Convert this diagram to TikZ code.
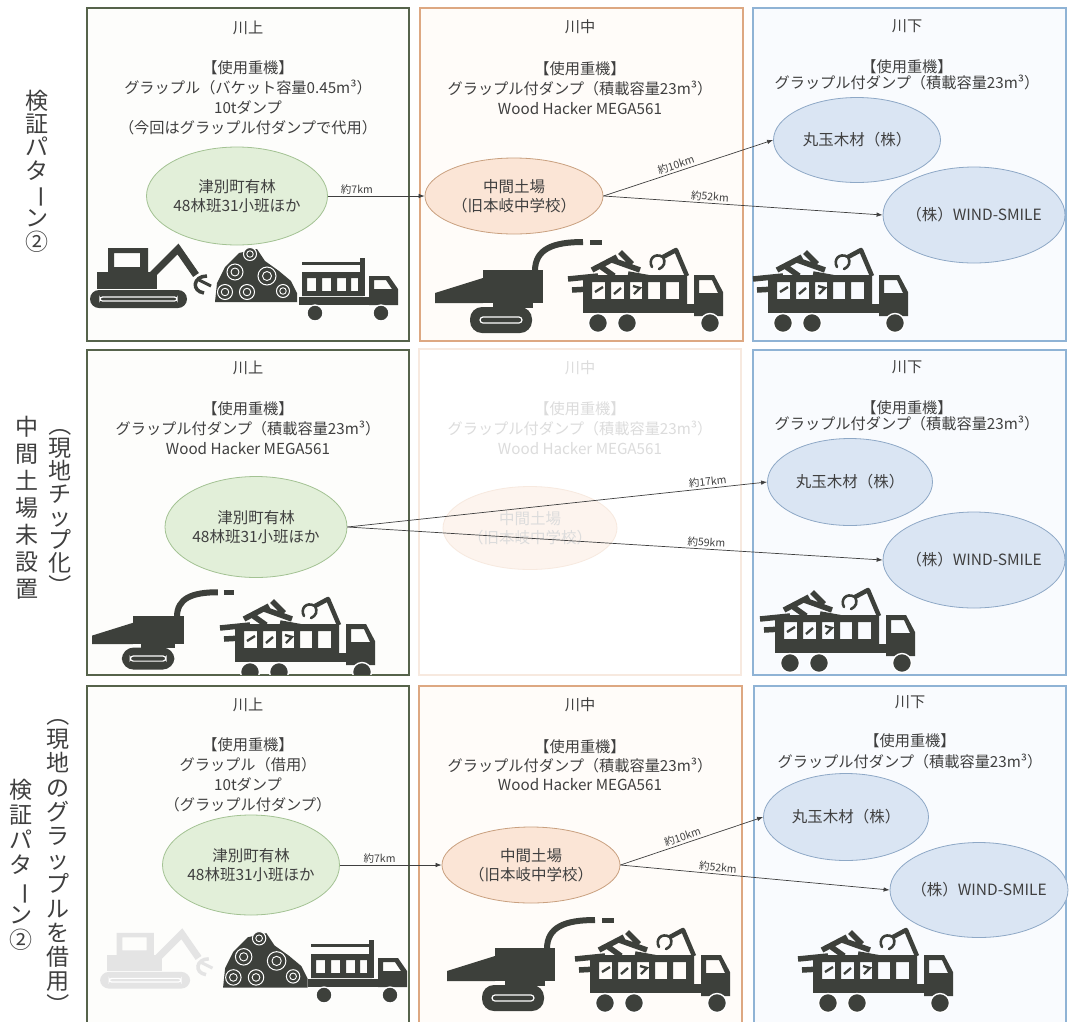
\documentclass[tikz,border=0pt]{standalone}
\usepackage{fontspec}
\setmainfont{Noto Sans CJK JP}
\usepackage{graphicx}
\usetikzlibrary{arrows.meta,shapes.geometric}

\definecolor{ink}{HTML}{3F3F3F}
\definecolor{icon}{HTML}{3D403B}
\definecolor{fadeicon}{HTML}{E4E4E4}
\definecolor{upB}{HTML}{56634B}
\definecolor{midB}{HTML}{DDA882}
\definecolor{lowB}{HTML}{8FB3D5}
\definecolor{upF}{HTML}{FDFDFB}
\definecolor{midF}{HTML}{FFFCF9}
\definecolor{lowF}{HTML}{F9FBFE}
\definecolor{grnF}{HTML}{E2EFD9}
\definecolor{grnB}{HTML}{A3C293}
\definecolor{orgF}{HTML}{FBE5D6}
\definecolor{orgB}{HTML}{C9A07F}
\definecolor{bluF}{HTML}{DAE5F3}
\definecolor{bluB}{HTML}{8EA8C6}
\definecolor{ghostB}{HTML}{F7E9DF}
\definecolor{ghostT}{HTML}{DCDCDC}
\definecolor{ghostF}{HTML}{FDF4EE}
\colorlet{pc}{icon}

\newcommand\fsz[2]{\fontsize{#1pt}{#2pt}\selectfont}
\newcommand\vturn[1]{\rotatebox[origin=c]{-90}{#1}}

\tikzset{
  pnlU/.style={draw=upB, line width=1.3pt, fill=upF},
  pnlM/.style={draw=midB, line width=1.1pt, fill=midF},
  pnlD/.style={draw=lowB, line width=1.1pt, fill=lowF},
  pnlG/.style={draw=ghostB, line width=1.1pt, fill=white},
  zone/.style={text=ink, font=\fsz{15.2}{18}, inner sep=0pt},
  gear/.style={text=ink, align=center, inner sep=0pt},
  site/.style={ellipse, line width=0.8pt, inner sep=0pt},
  sitetxt/.style={text=ink, font=\fsz{15.5}{19}, align=center, inner sep=0pt},
  conn/.style={draw=ink, line width=0.7pt, -{Latex[length=6pt,width=4.5pt]}},
  dist/.style={text=ink, font=\fsz{10.5}{12}, inner sep=1.5pt},
  vlab/.style={text=ink, align=center, inner sep=0pt},
  % grapple-loaded dump truck carrying chips
  grabtruck/.pic={
    \fill[pc, even odd rule] (13,35) rectangle (117,64)
      (22,42) rectangle (35,59) (41,42) rectangle (54,59) (60,42) rectangle (72,59)
      (78,42) rectangle (90,59) (96,42) rectangle (109,59);
    \draw[pc, line width=2.4pt] (25,52) -- (33,47) (44,54) -- (51,48) (63,46) -- (70,48) -- (64,54);
    \fill[pc] (13,64) rectangle (128,73);
    \fill[pc, even odd rule] (124,35) -- (144,35) -- (153,52) -- (153,76) -- (124,76) -- cycle
      (129,40) -- (142,40) -- (148,53) -- (129,53) -- cycle;
    \filldraw[fill=pc, draw=white, line width=1.4pt] (28,83) circle (9.5) (57,83) circle (9.5) (140,83) circle (9.5);
    \draw[pc, line width=4.5pt, line join=round] (117,36) -- (106,10) -- (93,17);
    \draw[pc, line width=2.6pt, line cap=round] (93,17) .. controls (84,12) and (78,20) .. (82,27);
    \draw[pc, line width=2.6pt, line cap=round] (93,17) .. controls (96,22) and (94,27) .. (89,29);
    \draw[pc, line width=5.5pt] (22,30) -- (47,17) (42,20) -- (70,30) (50,12) -- (62,24)
      (58,34) -- (86,39) (-2,39) -- (28,36) (2,50) -- (20,49) (30,26) -- (44,36);
  },
  % mobile wood chipper on crawler tracks
  chipper/.pic={
    \fill[pc] (0,56) -- (48,41) -- (48,66) -- (0,66) -- cycle;
    \fill[pc] (48,33) rectangle (108,66);
    \fill[pc] (58,66) rectangle (98,71);
    \fill[pc, rounded corners=12pt] (35,70) rectangle (97,96);
    \draw[white, line width=1.2pt, rounded corners=3pt] (45,80) rectangle (87,86);
    \draw[pc, line width=6pt] (100,34) .. controls (100,12) and (118,5) .. (148,5);
    \draw[pc, line width=5pt] (155,5) -- (167,5);
  },
  % grapple excavator
  excav/.pic={
    \fill[pc, rounded corners=9pt] (0,45) rectangle (97,63);
    \draw[white, line width=1.2pt, rounded corners=2.5pt] (10,52) rectangle (87,56);
    \fill[pc] (7,27) rectangle (67,44);
    \fill[pc, even odd rule] (18,3) rectangle (58,27) (24,8) rectangle (50,22);
    \draw[pc, line width=7pt, line join=miter] (60,32) -- (88,4) -- (106,30);
    \draw[pc, line width=3.5pt] (117,31) .. controls (103,31) and (101,46) .. (114,48);
    \draw[pc, line width=3pt] (109,35) -- (121,41);
  },
  % stacked logs
  logpile/.pic={
    \fill[pc] (2,57) -- (4,38) -- (12,22) -- (26,8) -- (44,4) -- (52,16) -- (66,26)
      -- (78,36) -- (84,48) -- (84,57) -- cycle;
    \foreach \x/\y/\r in {37/9/6.5, 22/27/8, 54/31/9, 12/47/7.5, 34/47/7.5, 70/46/6.5}{
      \filldraw[fill=pc, draw=white, line width=1pt] (\x,\y) circle (\r);
      \draw[white, line width=0.9pt] (\x,\y) circle ({0.5*\r});
    }
  },
  % 10t dump truck
  dumptruck/.pic={
    \fill[pc] (5,4) rectangle (67,7);
    \fill[pc] (63,0) rectangle (68,38);
    \fill[pc, even odd rule] (5,14) rectangle (66,38)
      (10,20) rectangle (19,33) (25,20) rectangle (34,33) (40,20) rectangle (49,33) (54,20) rectangle (61,33);
    \fill[pc] (2,39) rectangle (101,47);
    \fill[pc, even odd rule] (72,18) -- (92,18) -- (101,31) -- (101,47) -- (72,47) -- cycle
      (77,22) -- (89,22) -- (95,31) -- (77,31) -- cycle;
    \filldraw[fill=pc, draw=white, line width=1.3pt] (18,55) circle (8) (84,55) circle (8);
  },
}

\begin{document}
\begin{tikzpicture}[x=1pt, y=-1pt]
\useasboundingbox (0,0) rectangle (1069,1021);
\fill[white] (0,0) rectangle (1069,1021);
\clip (0,0) rectangle (1069,1021);

% ---------- panels ----------
\path[pnlU] (87,8) rectangle (409,341);
\path[pnlM] (420,8) rectangle (743,341);
\path[pnlD] (753,8) rectangle (1066,341);
\path[pnlU] (87,350) rectangle (409,675);
\path[pnlG] (419,349) rectangle (741,675);
\path[pnlD] (753,350) rectangle (1066,675);
\path[pnlU] (87,686) rectangle (409,1040);
\path[pnlM] (419,686) rectangle (742,1040);
\path[pnlD] (754,686) rectangle (1066,1040);

% ---------- row labels (vertical) ----------
\node[vlab, font=\fsz{23}{23.3}] (v1) at (37,171) {検\\証\\パ\\タ\\\vturn{ー}\\ン\\②};
\node[vlab, font=\fsz{23}{23}] (v2a) at (60,505) {\vturn{（}\\現\\地\\チ\\ッ\\プ\\化\\\vturn{）}};
\node[vlab, font=\fsz{23}{27}] (v2b) at (27,508) {中\\間\\土\\場\\未\\設\\置};
\node[vlab, font=\fsz{23}{24.2}] (v3a) at (58,860) {\vturn{（}\\現\\地\\の\\グ\\ラ\\ッ\\プ\\ル\\を\\借\\用\\\vturn{）}};
\node[vlab, font=\fsz{23}{25}] (v3b) at (21,865) {検\\証\\パ\\タ\\\vturn{ー}\\ン\\②};

% ---------- row 1 ----------
\node[zone] (h11) at (248,28) {川上};
\node[gear, font=\fsz{15.2}{20}] (g11) at (248,98) {【使用重機】\\グラップル（バケット容量0.45m³）\\10tダンプ\\（今回はグラップル付ダンプで代用）};
\node[zone] (h12) at (580,27) {川中};
\node[gear, font=\fsz{15.2}{20}] (g12) at (580,88) {【使用重機】\\グラップル付ダンプ（積載容量23m³）\\Wood Hacker MEGA561};
\node[zone] (h13) at (907,26) {川下};
\node[gear, font=\fsz{15.2}{16}] (g13) at (907,75) {【使用重機】\\グラップル付ダンプ（積載容量23m³）};

\node[site, draw=grnB, fill=grnF, minimum width=181pt, minimum height=98pt,
  label={[sitetxt]center:津別町有林\\48林班31小班ほか}] (A1) at (237,196) {};
\node[site, draw=orgB, fill=orgF, minimum width=178pt, minimum height=76pt,
  label={[sitetxt]center:中間土場\\（旧本岐中学校）}] (M1) at (514,196) {};
\node[site, draw=bluB, fill=bluF, minimum width=167pt, minimum height=85pt,
  label={[sitetxt]center:丸玉木材（株）}] (Ra1) at (857,140) {};
\node[site, draw=bluB, fill=bluF, minimum width=182pt, minimum height=96pt,
  label={[sitetxt]center:（株）WIND-SMILE}] (Rb1) at (974,215) {};

\draw[conn] (A1.east) -- node[dist, pos=.3, above] (d11) {約7km} (M1.west);
\draw[conn] (M1.east) -- node[dist, pos=.44, above, sloped] (d12) {約10km} (Ra1.west);
\draw[conn] (M1.east) -- node[dist, pos=.38, above, sloped] (d13) {約52km} (Rb1.west);

\pic at (90,245) {excav};
\pic at (213,245) {logpile};
\pic at (297,258) {dumptruck};
\pic at (435,237) {chipper};
\pic at (570,240) {grabtruck};
\pic at (755,240) {grabtruck};

% ---------- row 2 ----------
\node[zone] (h21) at (248,368) {川上};
\node[gear, font=\fsz{15.2}{20}] (g21) at (248,428) {【使用重機】\\グラップル付ダンプ（積載容量23m³）\\Wood Hacker MEGA561};
\node[zone, text=ghostT] (h22) at (580,368) {川中};
\node[gear, text=ghostT, font=\fsz{15.2}{20}] (g22) at (580,428) {【使用重機】\\グラップル付ダンプ（積載容量23m³）\\Wood Hacker MEGA561};
\node[zone] (h23) at (907,367) {川下};
\node[gear, font=\fsz{15.2}{16}] (g23) at (907,416) {【使用重機】\\グラップル付ダンプ（積載容量23m³）};

\node[site, draw=grnB, fill=grnF, minimum width=182pt, minimum height=101pt,
  label={[sitetxt]center:津別町有林\\48林班31小班ほか}] (A2) at (256,527) {};
\node[site, draw=ghostB, fill=ghostF, minimum width=174pt, minimum height=83pt,
  label={[sitetxt, text=ghostT]center:中間土場\\（旧本岐中学校）}] (M2) at (530,528) {};
\node[site, draw=bluB, fill=bluF, minimum width=165pt, minimum height=87pt,
  label={[sitetxt]center:丸玉木材（株）}] (Ra2) at (850,482) {};
\node[site, draw=bluB, fill=bluF, minimum width=182pt, minimum height=96pt,
  label={[sitetxt]center:（株）WIND-SMILE}] (Rb2) at (974,560) {};

\draw[conn] (A2.east) -- node[dist, pos=.86, above, sloped] (d21) {約17km} (Ra2.west);
\draw[conn] (A2.east) -- node[dist, pos=.67, above, sloped] (d22) {約59km} (Rb2.west);

\begin{scope}
  \clip (88,351) rectangle (408,674);
  \pic[scale=0.85] at (92,588) {chipper};
  \pic at (222,589) {grabtruck};
\end{scope}
\pic at (762,580) {grabtruck};

% ---------- row 3 ----------
\node[zone] (h31) at (248,705) {川上};
\node[gear, font=\fsz{15.2}{20}] (g31) at (248,775) {【使用重機】\\グラップル（借用）\\10tダンプ\\（グラップル付ダンプ）};
\node[zone] (h32) at (580,705) {川中};
\node[gear, font=\fsz{15.2}{19}] (g32) at (580,765) {【使用重機】\\グラップル付ダンプ（積載容量23m³）\\Wood Hacker MEGA561};
\node[zone] (h33) at (910,702) {川下};
\node[gear, font=\fsz{15.2}{21}] (g33) at (910,751) {【使用重機】\\グラップル付ダンプ（積載容量23m³）};

\node[site, draw=grnB, fill=grnF, minimum width=177pt, minimum height=100pt,
  label={[sitetxt]center:津別町有林\\48林班31小班ほか}] (A3) at (251,865) {};
\node[site, draw=orgB, fill=orgF, minimum width=178pt, minimum height=76pt,
  label={[sitetxt]center:中間土場\\（旧本岐中学校）}] (M3) at (531,865) {};
\node[site, draw=bluB, fill=bluF, minimum width=165pt, minimum height=87pt,
  label={[sitetxt]center:丸玉木材（株）}] (Ra3) at (846,817) {};
\node[site, draw=bluB, fill=bluF, minimum width=178pt, minimum height=95pt,
  label={[sitetxt]center:（株）WIND-SMILE}] (Rb3) at (979,890) {};

\draw[conn] (A3.east) -- node[dist, pos=.39, above] (d31) {約7km} (M3.west);
\draw[conn] (M3.east) -- node[dist, pos=.45, above, sloped] (d32) {約10km} (Ra3.west);
\draw[conn] (M3.east) -- node[dist, pos=.36, above, sloped] (d33) {約52km} (Rb3.west);

\begin{scope}
  \colorlet{pc}{fadeicon}
  \pic[scale=0.93] at (100,930) {excav};
\end{scope}
\pic[scale=1.03] at (221,929) {logpile};
\pic at (306,940) {dumptruck};
\pic at (447,915) {chipper};
\pic at (577,920) {grabtruck};
\pic at (800,920) {grabtruck};

\end{tikzpicture}
\end{document}
